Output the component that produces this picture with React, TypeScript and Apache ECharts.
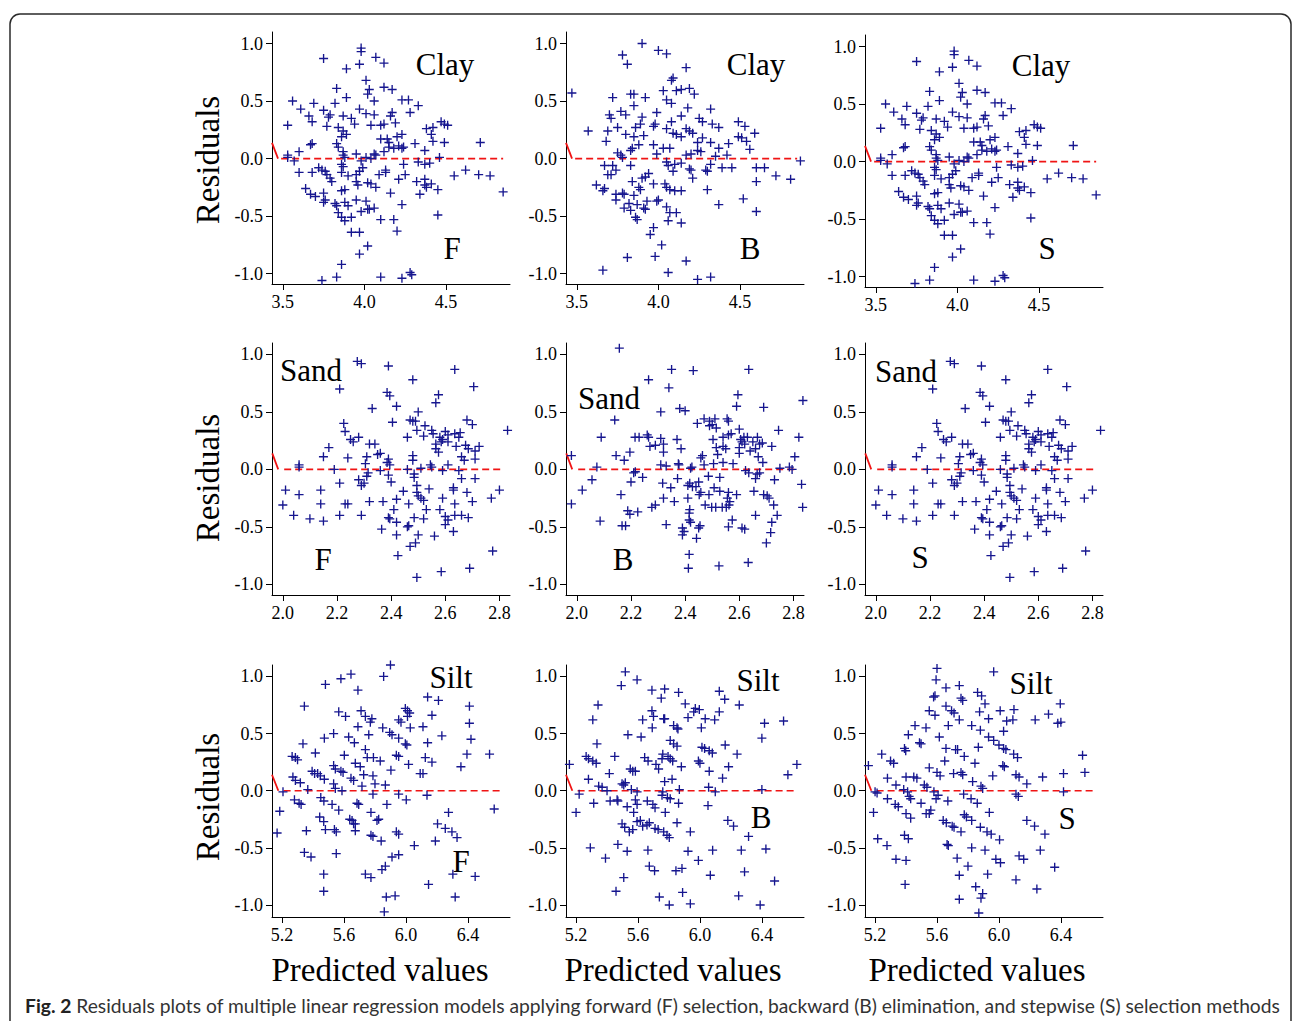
import React, { useEffect, useRef } from 'react';
import * as echarts from 'echarts';

// ---------------- data (residuals) ----------------
const clayF: number[][] = [[3.98,0.96],[3.98,0.93],[3.75,0.87],[4.07,0.88],[4.12,0.83],[3.97,0.82],[3.89,0.78],[4.01,0.68],[3.83,0.61],[4.03,0.60],[4.02,0.56],[4.12,0.62],[4.17,0.60],[3.89,0.53],[3.82,0.48],[3.69,0.48],[3.56,0.50],[4.06,0.50],[4.23,0.51],[4.27,0.51],[4.33,0.46],[3.61,0.43],[3.75,0.42],[3.97,0.43],[3.79,0.38],[3.78,0.36],[3.87,0.37],[4.01,0.39],[4.06,0.38],[4.17,0.40],[4.16,0.37],[4.28,0.40],[3.66,0.37],[3.68,0.32],[3.92,0.35],[3.94,0.30],[3.53,0.29],[3.77,0.28],[3.84,0.27],[4.04,0.29],[4.10,0.29],[4.12,0.30],[4.19,0.31],[4.38,0.26],[4.42,0.27],[4.47,0.32],[4.49,0.30],[4.51,0.29],[3.87,0.24],[3.89,0.21],[3.86,0.19],[4.10,0.17],[4.14,0.17],[4.20,0.19],[4.23,0.21],[4.41,0.21],[4.42,0.15],[4.49,0.14],[4.71,0.14],[4.31,0.13],[3.68,0.13],[3.67,0.12],[3.83,0.13],[3.84,0.10],[4.15,0.14],[4.15,0.10],[4.21,0.11],[4.23,0.09],[4.24,0.10],[4.37,0.07],[3.60,0.06],[3.53,0.03],[3.53,0.01],[3.87,0.06],[3.87,0.03],[3.95,0.04],[4.06,0.04],[4.07,0.03],[4.12,0.06],[4.18,0.09],[3.57,-0.02],[3.88,0.01],[4.01,0.01],[4.04,0.00],[4.46,0.01],[3.98,-0.02],[4.33,-0.03],[4.40,-0.04],[4.24,-0.05],[3.60,-0.12],[3.68,-0.12],[3.72,-0.08],[3.74,-0.10],[3.76,-0.11],[3.77,-0.14],[3.86,-0.05],[3.87,-0.07],[3.86,-0.12],[3.90,-0.15],[3.95,-0.14],[3.97,-0.11],[3.99,-0.08],[4.09,-0.14],[4.13,-0.10],[4.13,-0.12],[4.25,-0.14],[4.21,-0.18],[4.37,-0.05],[4.55,-0.15],[4.62,-0.10],[4.70,-0.14],[4.77,-0.15],[3.79,-0.17],[3.80,-0.20],[3.95,-0.20],[3.96,-0.23],[4.02,-0.21],[4.04,-0.22],[4.07,-0.25],[4.32,-0.20],[4.37,-0.18],[4.37,-0.23],[4.38,-0.25],[4.41,-0.22],[4.45,-0.27],[3.64,-0.26],[3.67,-0.31],[3.70,-0.33],[3.75,-0.30],[3.76,-0.36],[3.75,-0.38],[3.86,-0.28],[3.88,-0.27],[4.16,-0.30],[4.34,-0.31],[4.85,-0.29],[3.82,-0.39],[3.83,-0.41],[3.88,-0.38],[3.90,-0.41],[3.95,-0.36],[4.01,-0.37],[4.02,-0.44],[3.98,-0.46],[4.03,-0.44],[4.06,-0.43],[4.23,-0.40],[3.84,-0.47],[3.86,-0.51],[3.88,-0.54],[3.92,-0.51],[4.10,-0.53],[4.18,-0.53],[4.45,-0.49],[4.20,-0.63],[3.92,-0.64],[3.97,-0.64],[4.02,-0.76],[3.97,-0.83],[3.86,-0.92],[3.83,-1.03],[3.74,-1.06],[4.10,-1.03],[4.23,-1.04],[4.28,-0.99],[4.29,-1.01]];

const clayB: number[][] = [[3.90,1.00],[4.00,0.94],[4.05,0.91],[3.78,0.90],[3.81,0.82],[4.17,0.79],[4.09,0.70],[4.08,0.68],[4.03,0.59],[4.11,0.59],[4.14,0.60],[4.19,0.61],[4.22,0.56],[3.47,0.57],[3.72,0.53],[3.83,0.56],[3.85,0.56],[3.92,0.53],[4.05,0.51],[4.08,0.48],[3.85,0.46],[4.18,0.44],[4.32,0.43],[3.77,0.41],[3.80,0.38],[3.70,0.38],[3.71,0.35],[3.90,0.36],[3.99,0.40],[4.08,0.32],[4.14,0.37],[4.25,0.35],[4.27,0.32],[4.33,0.30],[4.37,0.27],[4.49,0.32],[4.53,0.28],[3.57,0.24],[3.69,0.24],[3.75,0.27],[3.86,0.27],[3.89,0.30],[3.97,0.28],[3.98,0.30],[4.05,0.26],[4.09,0.22],[4.11,0.21],[4.17,0.26],[4.19,0.24],[4.21,0.22],[3.80,0.21],[3.85,0.19],[3.91,0.20],[4.14,0.19],[4.27,0.18],[4.49,0.19],[4.51,0.18],[4.59,0.22],[3.68,0.15],[3.88,0.12],[3.84,0.09],[3.83,0.07],[3.97,0.12],[4.03,0.09],[4.07,0.09],[4.24,0.14],[4.24,0.07],[4.26,0.06],[4.32,0.14],[4.37,0.09],[4.43,0.13],[4.54,0.15],[4.56,0.08],[3.75,0.05],[3.77,0.03],[3.78,0.01],[3.99,0.04],[4.17,0.03],[4.20,0.04],[4.35,0.02],[4.42,0.03],[4.87,-0.02],[3.67,-0.06],[3.72,-0.06],[3.74,-0.10],[3.83,-0.06],[4.05,-0.03],[4.06,-0.06],[4.10,-0.05],[4.09,-0.11],[4.14,-0.04],[4.19,-0.09],[4.20,-0.10],[4.29,-0.10],[4.30,-0.11],[4.32,-0.05],[4.39,-0.08],[4.45,-0.08],[4.60,-0.08],[4.65,-0.08],[3.69,-0.14],[3.71,-0.14],[3.90,-0.17],[3.92,-0.16],[3.94,-0.13],[3.84,-0.20],[3.97,-0.22],[4.04,-0.22],[4.05,-0.25],[4.21,-0.17],[4.72,-0.15],[4.81,-0.18],[4.60,-0.20],[3.62,-0.23],[3.67,-0.26],[3.66,-0.28],[3.88,-0.25],[3.89,-0.27],[4.07,-0.27],[4.10,-0.28],[4.14,-0.28],[4.30,-0.27],[3.74,-0.31],[3.74,-0.36],[3.78,-0.30],[3.79,-0.31],[3.85,-0.32],[3.93,-0.37],[3.99,-0.37],[4.00,-0.36],[4.52,-0.35],[4.37,-0.40],[3.82,-0.39],[3.83,-0.45],[3.79,-0.43],[3.87,-0.40],[3.91,-0.43],[3.92,-0.44],[4.05,-0.42],[4.07,-0.47],[4.06,-0.54],[4.11,-0.47],[3.86,-0.51],[3.87,-0.53],[4.14,-0.56],[4.60,-0.46],[3.97,-0.60],[3.95,-0.66],[4.02,-0.75],[3.98,-0.85],[3.81,-0.86],[4.17,-0.89],[3.66,-0.97],[4.06,-0.99],[4.24,-1.05],[4.32,-1.03]];

// the stepwise panel for clay shows the same residuals as forward selection
const clayS: number[][] = clayF.map((p) => [p[0], p[1]]);

const sandF: number[][] = [[2.275,0.94],[2.29,0.92],[2.39,0.90],[2.635,0.87],[2.48,0.78],[2.705,0.72],[2.21,0.70],[2.385,0.67],[2.395,0.64],[2.575,0.65],[2.565,0.58],[2.42,0.55],[2.33,0.53],[2.50,0.50],[2.225,0.40],[2.23,0.33],[2.405,0.41],[2.47,0.43],[2.48,0.42],[2.49,0.42],[2.495,0.34],[2.525,0.38],[2.68,0.43],[2.70,0.39],[2.55,0.34],[2.555,0.31],[2.60,0.33],[2.61,0.30],[2.635,0.31],[2.655,0.32],[2.65,0.28],[2.83,0.34],[2.46,0.28],[2.52,0.29],[2.28,0.28],[2.25,0.26],[2.26,0.24],[2.58,0.28],[2.59,0.26],[2.585,0.24],[2.565,0.22],[2.565,0.18],[2.575,0.15],[2.61,0.24],[2.32,0.22],[2.34,0.22],[2.17,0.19],[2.64,0.20],[2.675,0.21],[2.685,0.18],[2.725,0.20],[2.71,0.16],[2.71,0.09],[2.35,0.13],[2.36,0.14],[2.15,0.11],[2.24,0.10],[2.31,0.11],[2.39,0.09],[2.385,0.06],[2.395,0.04],[2.48,0.12],[2.48,0.08],[2.66,0.11],[2.67,0.08],[2.06,0.02],[2.06,0.04],[2.19,0.00],[2.305,0.05],[2.545,0.04],[2.55,0.02],[2.61,0.04],[2.36,-0.01],[2.46,0.00],[2.51,0.01],[2.59,-0.01],[2.65,-0.01],[2.315,-0.03],[2.31,-0.06],[2.39,-0.05],[2.485,-0.04],[2.485,-0.07],[2.66,-0.08],[2.71,-0.08],[2.28,-0.09],[2.30,-0.12],[2.29,-0.14],[2.21,-0.12],[2.40,-0.11],[2.495,-0.14],[2.01,-0.18],[2.06,-0.22],[2.14,-0.18],[2.445,-0.19],[2.495,-0.20],[2.50,-0.23],[2.51,-0.25],[2.52,-0.27],[2.54,-0.17],[2.63,-0.16],[2.63,-0.18],[2.68,-0.20],[2.80,-0.18],[2.77,-0.25],[2.59,-0.25],[2.70,-0.28],[2.635,-0.30],[2.00,-0.31],[2.14,-0.30],[2.23,-0.30],[2.24,-0.30],[2.32,-0.28],[2.37,-0.28],[2.42,-0.26],[2.465,-0.30],[2.53,-0.35],[2.41,-0.35],[2.58,-0.35],[2.04,-0.40],[2.10,-0.43],[2.15,-0.45],[2.21,-0.40],[2.29,-0.40],[2.39,-0.42],[2.395,-0.43],[2.42,-0.46],[2.485,-0.42],[2.52,-0.43],[2.60,-0.41],[2.61,-0.44],[2.60,-0.48],[2.635,-0.40],[2.66,-0.40],[2.685,-0.42],[2.46,-0.50],[2.465,-0.49],[2.365,-0.52],[2.63,-0.54],[2.42,-0.57],[2.50,-0.57],[2.56,-0.58],[2.47,-0.67],[2.49,-0.64],[2.775,-0.71],[2.425,-0.75],[2.69,-0.86],[2.585,-0.89],[2.495,-0.94]];

const sandB: number[][] = [[2.157,1.055],[2.35,0.87],[2.43,0.86],[2.635,0.87],[2.265,0.78],[2.34,0.71],[2.595,0.65],[2.835,0.60],[2.59,0.55],[2.69,0.54],[2.38,0.53],[2.40,0.51],[2.31,0.50],[2.14,0.43],[2.47,0.44],[2.49,0.42],[2.51,0.44],[2.555,0.44],[2.56,0.42],[2.445,0.40],[2.49,0.38],[2.50,0.39],[2.515,0.36],[2.745,0.34],[2.60,0.35],[2.56,0.30],[2.57,0.31],[2.09,0.28],[2.215,0.28],[2.23,0.28],[2.26,0.30],[2.265,0.28],[2.31,0.27],[2.37,0.26],[2.503,0.26],[2.54,0.28],[2.617,0.28],[2.63,0.28],[2.667,0.28],[2.82,0.28],[2.605,0.26],[2.61,0.24],[2.62,0.22],[2.65,0.24],[2.675,0.22],[2.685,0.23],[2.72,0.20],[2.27,0.20],[2.29,0.21],[2.32,0.22],[2.385,0.18],[2.515,0.19],[2.54,0.20],[2.55,0.18],[2.60,0.19],[2.64,0.16],[2.66,0.18],[2.196,0.15],[2.32,0.15],[2.464,0.12],[2.458,0.10],[2.52,0.13],[2.60,0.14],[2.67,0.11],[2.145,0.12],[2.175,0.08],[2.805,0.11],[1.98,0.12],[2.31,0.04],[2.33,0.03],[2.375,0.05],[2.377,0.04],[2.425,0.02],[2.42,0.01],[2.47,0.04],[2.505,0.05],[2.54,0.06],[2.577,0.05],[2.687,0.06],[2.074,0.02],[2.216,-0.02],[2.21,-0.03],[2.75,0.01],[2.785,0.02],[2.795,0.00],[2.623,-0.01],[2.635,-0.03],[2.056,-0.09],[2.20,-0.11],[2.243,-0.07],[2.317,-0.12],[2.372,-0.08],[2.41,-0.14],[2.427,-0.15],[2.417,-0.12],[2.45,-0.11],[2.44,-0.15],[2.486,-0.06],[2.528,-0.07],[2.666,-0.04],[2.675,-0.03],[2.66,-0.08],[2.73,-0.09],[2.83,-0.13],[2.02,-0.18],[1.98,-0.30],[2.163,-0.22],[2.347,-0.16],[2.458,-0.20],[2.452,-0.22],[2.488,-0.22],[2.507,-0.16],[2.528,-0.19],[2.56,-0.20],[2.556,-0.25],[2.59,-0.22],[2.654,-0.19],[2.69,-0.22],[2.703,-0.23],[2.71,-0.25],[2.36,-0.28],[2.32,-0.25],[2.41,-0.25],[2.474,-0.31],[2.498,-0.33],[2.513,-0.33],[2.537,-0.33],[2.552,-0.33],[2.565,-0.28],[2.562,-0.31],[2.727,-0.31],[2.834,-0.33],[2.277,-0.33],[2.29,-0.31],[2.188,-0.36],[2.196,-0.39],[2.225,-0.37],[2.417,-0.35],[2.415,-0.38],[2.74,-0.40],[2.66,-0.40],[2.086,-0.45],[2.33,-0.48],[2.415,-0.44],[2.42,-0.46],[2.455,-0.49],[2.45,-0.51],[2.574,-0.44],[2.72,-0.46],[2.167,-0.49],[2.18,-0.49],[2.39,-0.51],[2.396,-0.54],[2.39,-0.57],[2.442,-0.60],[2.56,-0.50],[2.61,-0.51],[2.62,-0.52],[2.716,-0.55],[2.70,-0.64],[2.415,-0.74],[2.412,-0.86],[2.525,-0.84],[2.633,-0.81]];

// the stepwise panel for sand shows the same residuals as forward selection
const sandS: number[][] = sandF.map((p) => [p[0], p[1]]);

const siltF: number[][] = [[5.90,1.10],[5.645,1.02],[5.58,0.98],[5.856,1.00],[5.48,0.93],[5.69,0.88],[6.14,0.82],[6.21,0.79],[5.344,0.74],[6.41,0.74],[5.996,0.72],[6.01,0.70],[6.024,0.68],[6.01,0.65],[5.566,0.69],[5.71,0.70],[5.61,0.65],[5.78,0.63],[5.77,0.60],[5.738,0.65],[6.168,0.66],[5.953,0.62],[5.968,0.60],[6.41,0.59],[5.69,0.56],[5.85,0.55],[6.028,0.55],[6.11,0.56],[5.895,0.51],[5.91,0.49],[5.533,0.50],[5.76,0.49],[6.232,0.48],[6.42,0.45],[5.473,0.46],[5.63,0.47],[5.667,0.42],[5.953,0.46],[5.996,0.41],[6.006,0.40],[6.14,0.42],[5.335,0.41],[5.415,0.33],[5.602,0.31],[5.738,0.36],[5.938,0.31],[5.953,0.30],[6.394,0.32],[6.54,0.32],[5.265,0.30],[5.286,0.29],[5.30,0.27],[5.75,0.29],[5.79,0.29],[5.834,0.26],[6.125,0.29],[6.168,0.25],[5.673,0.24],[5.533,0.22],[5.544,0.19],[5.705,0.21],[6.017,0.23],[6.355,0.21],[5.903,0.18],[5.394,0.17],[5.41,0.15],[5.43,0.15],[5.447,0.13],[5.58,0.17],[5.594,0.16],[5.727,0.14],[5.787,0.13],[6.092,0.15],[6.11,0.15],[5.27,0.12],[5.286,0.09],[5.473,0.10],[5.645,0.11],[5.662,0.09],[5.80,0.06],[5.867,0.05],[5.318,0.07],[5.533,0.06],[5.544,0.02],[5.716,0.04],[5.366,0.01],[5.206,-0.01],[5.587,0.00],[5.787,-0.03],[5.953,-0.03],[6.136,-0.04],[5.28,-0.08],[5.31,-0.11],[5.323,-0.12],[5.45,-0.06],[5.47,-0.09],[5.523,-0.12],[5.566,-0.17],[5.684,-0.11],[5.695,-0.12],[5.877,-0.12],[6.002,-0.08],[5.185,-0.18],[5.774,-0.19],[5.824,-0.25],[5.813,-0.26],[5.443,-0.23],[5.469,-0.27],[5.637,-0.25],[5.652,-0.26],[5.662,-0.29],[5.673,-0.29],[6.275,-0.19],[6.57,-0.16],[6.204,-0.29],[6.254,-0.33],[6.297,-0.36],[6.33,-0.41],[5.168,-0.37],[5.357,-0.35],[5.48,-0.34],[5.538,-0.34],[5.55,-0.36],[5.673,-0.35],[5.774,-0.39],[5.787,-0.40],[5.938,-0.36],[5.953,-0.38],[5.84,-0.44],[6.054,-0.48],[6.19,-0.44],[5.344,-0.54],[5.387,-0.58],[5.55,-0.55],[5.91,-0.58],[5.953,-0.56],[5.867,-0.66],[5.845,-0.69],[5.469,-0.73],[5.738,-0.73],[5.774,-0.76],[6.303,-0.73],[6.447,-0.75],[6.146,-0.82],[5.469,-0.88],[5.873,-0.93],[5.93,-0.92],[6.318,-0.93],[5.86,-1.06]];

const siltB: number[][] = [[5.518,1.04],[5.492,0.92],[5.594,0.97],[5.69,0.88],[5.772,0.89],[5.75,0.81],[5.862,0.86],[6.125,0.87],[6.16,0.80],[5.342,0.75],[6.254,0.75],[5.905,0.76],[5.97,0.72],[5.996,0.71],[5.96,0.69],[5.69,0.70],[5.70,0.65],[5.766,0.63],[5.772,0.63],[5.923,0.64],[6.034,0.63],[6.095,0.62],[6.125,0.69],[5.308,0.62],[5.63,0.62],[6.417,0.59],[6.54,0.61],[5.692,0.55],[5.83,0.57],[5.852,0.55],[5.858,0.54],[6.009,0.55],[5.535,0.49],[5.62,0.47],[6.40,0.46],[5.335,0.41],[5.808,0.44],[5.83,0.41],[5.852,0.39],[6.013,0.38],[6.03,0.37],[6.06,0.35],[6.08,0.33],[6.163,0.40],[6.24,0.32],[5.265,0.30],[5.28,0.28],[5.308,0.26],[5.33,0.24],[5.45,0.30],[5.643,0.29],[5.665,0.26],[5.76,0.32],[5.755,0.28],[5.794,0.30],[5.808,0.28],[5.824,0.26],[5.716,0.23],[5.733,0.19],[5.99,0.26],[6.00,0.24],[5.88,0.21],[6.185,0.21],[6.626,0.23],[5.157,0.23],[5.55,0.19],[5.566,0.17],[5.583,0.17],[5.415,0.15],[6.06,0.17],[5.28,0.10],[5.518,0.07],[5.508,0.05],[5.497,0.06],[5.772,0.08],[5.82,0.10],[6.146,0.11],[6.568,0.14],[5.346,0.04],[5.368,0.03],[5.40,0.00],[5.557,0.01],[5.594,-0.01],[5.76,-0.01],[5.867,0.01],[6.056,0.03],[6.099,-0.01],[6.40,0.01],[5.22,-0.03],[5.42,-0.09],[5.465,-0.08],[5.47,-0.09],[5.53,-0.14],[5.583,-0.08],[5.594,-0.12],[5.66,-0.09],[5.696,-0.12],[5.71,-0.15],[5.755,-0.04],[5.79,-0.06],[5.808,-0.07],[5.776,-0.19],[5.862,-0.11],[6.052,-0.13],[5.314,-0.11],[5.20,-0.19],[5.572,-0.19],[5.594,-0.27],[5.615,-0.26],[5.63,-0.31],[5.658,-0.30],[5.673,-0.28],[5.71,-0.33],[5.73,-0.34],[5.766,-0.36],[5.787,-0.39],[5.802,-0.41],[5.852,-0.28],[6.18,-0.26],[6.217,-0.31],[5.497,-0.29],[5.514,-0.32],[5.544,-0.36],[5.566,-0.34],[5.938,-0.36],[6.314,-0.40],[5.292,-0.50],[5.47,-0.47],[5.53,-0.53],[5.664,-0.52],[5.923,-0.53],[5.99,-0.61],[6.082,-0.52],[6.267,-0.52],[6.426,-0.51],[5.39,-0.59],[5.673,-0.66],[5.707,-0.70],[5.845,-0.70],[5.884,-0.68],[6.288,-0.71],[6.067,-0.74],[5.508,-0.76],[6.482,-0.79],[5.458,-0.88],[5.888,-0.89],[6.25,-0.92],[5.738,-0.93],[5.802,-1.00],[5.938,-0.99],[6.389,-1.00]];

const siltS: number[][] = [[5.60,1.07],[5.966,1.04],[5.594,0.97],[5.658,0.90],[5.744,0.92],[5.587,0.83],[5.578,0.82],[5.755,0.81],[5.766,0.79],[5.862,0.86],[5.888,0.83],[5.91,0.76],[6.396,0.76],[5.658,0.74],[5.587,0.66],[5.55,0.70],[5.694,0.70],[5.71,0.68],[5.744,0.62],[5.875,0.69],[5.933,0.63],[6.008,0.70],[6.097,0.71],[6.05,0.61],[6.09,0.62],[6.234,0.62],[6.32,0.67],[6.38,0.59],[6.40,0.60],[5.458,0.57],[5.529,0.55],[5.673,0.57],[5.824,0.57],[5.88,0.53],[6.03,0.52],[5.415,0.49],[5.615,0.47],[5.933,0.47],[5.966,0.44],[5.487,0.42],[5.497,0.41],[5.39,0.37],[5.398,0.35],[5.658,0.37],[5.72,0.36],[5.733,0.36],[5.867,0.38],[6.00,0.40],[6.03,0.37],[6.045,0.36],[5.243,0.32],[5.776,0.30],[6.095,0.32],[6.12,0.29],[6.54,0.31],[5.30,0.26],[5.32,0.24],[5.65,0.26],[5.845,0.24],[6.025,0.22],[6.035,0.21],[5.157,0.22],[5.55,0.20],[5.60,0.16],[5.62,0.13],[5.707,0.15],[5.755,0.16],[5.766,0.14],[5.40,0.12],[5.45,0.12],[5.47,0.11],[5.28,0.11],[5.96,0.13],[6.11,0.14],[6.13,0.12],[6.282,0.12],[6.417,0.15],[6.555,0.16],[5.83,0.08],[5.884,0.04],[5.895,0.02],[6.18,0.06],[5.335,0.05],[5.518,0.05],[5.535,0.03],[5.20,-0.01],[5.213,-0.02],[5.385,0.01],[5.41,-0.01],[5.58,-0.01],[5.607,-0.04],[5.594,-0.07],[5.772,-0.03],[6.11,-0.03],[6.125,-0.05],[6.417,-0.01],[5.28,-0.07],[5.33,-0.12],[5.35,-0.14],[5.42,-0.05],[5.43,-0.07],[5.497,-0.11],[5.67,-0.09],[5.82,-0.07],[5.86,-0.11],[5.19,-0.19],[5.40,-0.20],[5.43,-0.24],[5.53,-0.20],[5.55,-0.20],[5.56,-0.17],[5.64,-0.26],[5.66,-0.28],[5.698,-0.31],[5.71,-0.32],[5.755,-0.36],[5.776,-0.21],[5.79,-0.23],[5.824,-0.26],[5.88,-0.32],[5.923,-0.36],[5.95,-0.38],[5.938,-0.19],[6.004,-0.43],[6.18,-0.26],[6.23,-0.31],[6.297,-0.38],[5.217,-0.42],[5.277,-0.48],[5.39,-0.39],[5.415,-0.42],[5.665,-0.47],[5.673,-0.48],[5.824,-0.50],[5.91,-0.52],[6.267,-0.52],[5.335,-0.60],[5.40,-0.61],[5.73,-0.59],[5.98,-0.60],[6.01,-0.63],[6.13,-0.57],[6.16,-0.60],[5.80,-0.66],[6.36,-0.67],[5.744,-0.74],[5.927,-0.73],[6.11,-0.78],[5.394,-0.82],[5.85,-0.84],[5.895,-0.90],[5.884,-0.94],[6.245,-0.86],[5.744,-0.95],[5.87,-1.07]];

// short red fitted segment at the left edge and the dashed zero reference
const clayFit: number[][] = [[3.434, 0.136], [3.471, 0]];
const sandFit: number[][] = [[1.961, 0.14], [1.983, 0]];
const siltFit: number[][] = [[5.135, 0.14], [5.176, 0]];
const clayZero: number[][] = [[3.49, 0], [4.85, 0]];
const sandZero: number[][] = [[2.005, 0], [2.81, 0]];
const siltZero: number[][] = [[5.21, 0], [6.625, 0]];

const yTicks = [-1, -0.5, 0, 0.5, 1];
const clayXTicks = [3.5, 4.0, 4.5];
const sandXTicks = [2.0, 2.2, 2.4, 2.6, 2.8];
const siltXTicks = [5.2, 5.6, 6.0, 6.4];

const soils = ['Clay', 'Sand', 'Silt'];
const methods = ['F', 'B', 'S'];
const yTitle = 'Residuals';
const xTitle = 'Predicted values';
const captionBold = 'Fig. 2';
const captionText =
  ' Residuals plots of multiple linear regression models applying forward (F) selection, backward (B) elimination, and stepwise (S) selection methods';

const panelData = [
  [clayF, clayB, clayS],
  [sandF, sandB, sandS],
  [siltF, siltB, siltS],
];
const rowFit = [clayFit, sandFit, siltFit];
const rowZero = [clayZero, sandZero, siltZero];
const rowXTicks = [clayXTicks, sandXTicks, siltXTicks];

// ---------------- layout ----------------
const COL_LEFT = [272, 566, 865];
const ROW_TOP = [32, 343, 665];
const TOP_ADJ = [[0, 0, 3], [0, 0, 0], [0, 0, 0]];
const GRID_W = 238;
const GRID_H = 252;
const ROW_RANGE = [
  { xMin: 3.434, xMax: 4.892, yMin: -1.09, yMax: 1.1 },
  { xMin: 1.96, xMax: 2.839, yMin: -1.093, yMax: 1.1 },
  { xMin: 5.135, xMax: 6.672, yMin: -1.105, yMax: 1.1 },
];
const SOIL_POS = [
  [[445, 64], [756, 64], [1041, 65]],
  [[311, 370], [609, 398], [906, 371]],
  [[451, 677], [758, 680], [1031, 683]],
];
const METHOD_POS = [
  [[452, 248], [750, 248], [1047, 248]],
  [[323, 559], [623, 559], [920, 557]],
  [[461, 861], [761, 817], [1067, 818]],
];
const Y_TITLE_POS = [[208, 160], [208, 478], [208, 797]];
const X_TITLE_POS = [[380, 970], [673, 970], [977, 970]];

const SERIF = '"Liberation Serif", "Times New Roman", serif';
const PLUS = 'path://M4.25,0H5.75V4.25H10V5.75H5.75V10H4.25V5.75H0V4.25H4.25Z';
const POINT_COLOR = '#16168f';
const RED = '#f01414';

function buildOption() {
  const grid: any[] = [];
  const xAxis: any[] = [];
  const yAxis: any[] = [];
  const series: any[] = [];
  const graphic: any[] = [];

  const textStyle = (text: string, size: number) => ({
    text,
    fontFamily: SERIF,
    fontSize: size,
    fill: '#000',
    align: 'center',
    verticalAlign: 'middle',
    textAlign: 'center',
    textVerticalAlign: 'middle',
  });

  for (let r = 0; r < 3; r++) {
    for (let c = 0; c < 3; c++) {
      const idx = r * 3 + c;
      const rg = ROW_RANGE[r];
      grid.push({
        left: COL_LEFT[c],
        top: ROW_TOP[r] + TOP_ADJ[r][c],
        width: GRID_W,
        height: GRID_H,
        containLabel: false,
      });
      xAxis.push({
        type: 'value',
        gridIndex: idx,
        min: rg.xMin,
        max: rg.xMax,
        axisLine: { show: true, onZero: false, lineStyle: { color: '#000', width: 1 } },
        axisTick: { show: true, length: 6, lineStyle: { color: '#000' }, customValues: rowXTicks[r] },
        axisLabel: {
          show: true,
          customValues: rowXTicks[r],
          formatter: (v: number) => v.toFixed(1),
          fontFamily: SERIF,
          fontSize: 18,
          color: '#000',
          margin: 9,
          showMinLabel: true,
          showMaxLabel: true,
        },
        splitLine: { show: false },
      });
      yAxis.push({
        type: 'value',
        gridIndex: idx,
        min: rg.yMin,
        max: rg.yMax,
        axisLine: { show: true, onZero: false, lineStyle: { color: '#000', width: 1 } },
        axisTick: { show: true, length: 6, lineStyle: { color: '#000' }, customValues: yTicks },
        axisLabel: {
          show: true,
          customValues: yTicks,
          formatter: (v: number) => v.toFixed(1),
          fontFamily: SERIF,
          fontSize: 18,
          color: '#000',
          margin: 9,
        },
        splitLine: { show: false },
      });
      series.push({
        type: 'scatter',
        xAxisIndex: idx,
        yAxisIndex: idx,
        data: panelData[r][c],
        symbol: PLUS,
        symbolSize: 9,
        itemStyle: { color: POINT_COLOR, opacity: 1 },
        silent: true,
        z: 3,
      });
      series.push({
        type: 'line',
        xAxisIndex: idx,
        yAxisIndex: idx,
        data: rowZero[r],
        showSymbol: false,
        symbol: 'none',
        lineStyle: { color: RED, width: 1.6, type: [7, 4] },
        silent: true,
        z: 2,
      });
      series.push({
        type: 'line',
        xAxisIndex: idx,
        yAxisIndex: idx,
        data: rowFit[r],
        showSymbol: false,
        symbol: 'none',
        lineStyle: { color: RED, width: 1.8 },
        silent: true,
        z: 2,
      });
      graphic.push({
        type: 'text',
        x: SOIL_POS[r][c][0],
        y: SOIL_POS[r][c][1],
        silent: true,
        style: textStyle(soils[r], 31),
      });
      graphic.push({
        type: 'text',
        x: METHOD_POS[r][c][0],
        y: METHOD_POS[r][c][1],
        silent: true,
        style: textStyle(methods[c], 31),
      });
    }
  }

  for (let r = 0; r < 3; r++) {
    graphic.push({
      type: 'text',
      x: Y_TITLE_POS[r][0],
      y: Y_TITLE_POS[r][1],
      rotation: Math.PI / 2,
      silent: true,
      style: textStyle(yTitle, 33),
    });
  }
  for (let c = 0; c < 3; c++) {
    graphic.push({
      type: 'text',
      x: X_TITLE_POS[c][0],
      y: X_TITLE_POS[c][1],
      silent: true,
      style: textStyle(xTitle, 33),
    });
  }

  // frame
  graphic.push({
    type: 'rect',
    silent: true,
    z: -10,
    shape: { x: 10, y: 14, width: 1281, height: 1050, r: 10 },
    style: { fill: 'none', stroke: '#2a2a2a', lineWidth: 1.5 },
  });
  // caption
  graphic.push({
    type: 'text',
    x: 25,
    y: 1005,
    silent: true,
    style: {
      text: '{b|' + captionBold + '}' + captionText,
      fontFamily: 'Lato, "Liberation Sans", sans-serif',
      fontSize: 19.25,
      fill: '#333',
      verticalAlign: 'middle',
      textVerticalAlign: 'middle',
      rich: {
        b: {
          fontFamily: 'Lato, "Liberation Sans", sans-serif',
          fontWeight: 'bold',
          fontSize: 19.25,
          fill: '#222',
        },
      },
    },
  });

  return {
    animation: false,
    backgroundColor: '#ffffff',
    grid,
    xAxis,
    yAxis,
    series,
    graphic,
  };
}

export default function App() {
  const ref = useRef<HTMLDivElement | null>(null);
  useEffect(() => {
    if (!ref.current) return;
    const chart = echarts.init(ref.current, undefined, { renderer: 'svg' });
    chart.setOption(buildOption() as any);
    return () => {
      chart.dispose();
    };
  }, []);
  return (
    <div
      ref={ref}
      style={{ position: 'fixed', left: 0, top: 0, width: 1292, height: 1021, background: '#fff' }}
    />
  );
}
